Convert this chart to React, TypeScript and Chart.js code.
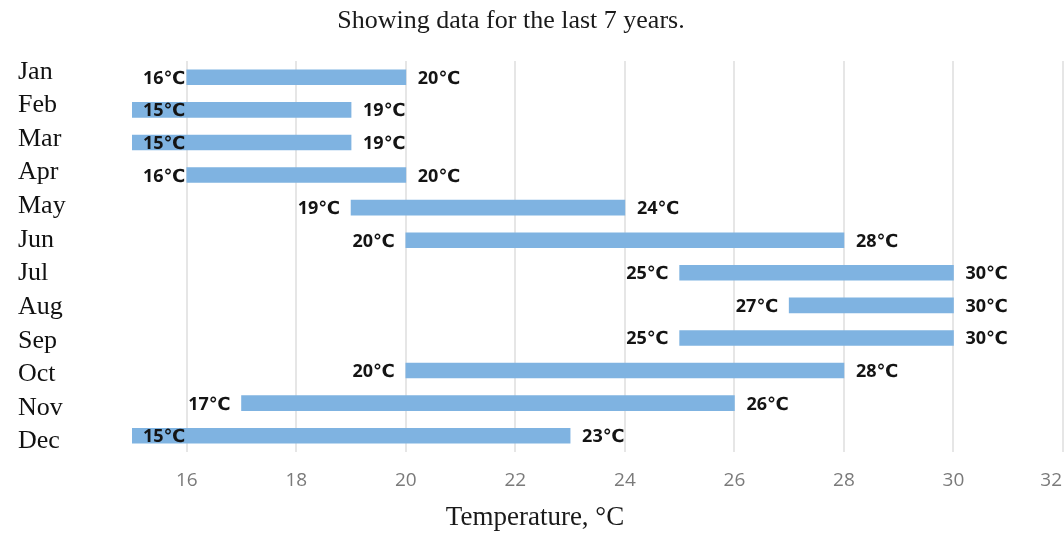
import React, { useEffect, useRef } from "react";
import { Chart, registerables } from "chart.js";

Chart.register(...registerables);

const months = ["Jan", "Feb", "Mar", "Apr", "May", "Jun", "Jul", "Aug", "Sep", "Oct", "Nov", "Dec"];
const lows = [16, 15, 15, 16, 19, 20, 25, 27, 25, 20, 17, 15];
const highs = [20, 19, 19, 20, 24, 28, 30, 30, 30, 28, 26, 23];
const xMin = 15;
const xMax = 32;
const xStep = 2;
const titleText = "Showing data for the last 7 years.";
const xTitleText = "Temperature, °C";
const unit = "℃";

const SERIF = "'Liberation Serif', 'Times New Roman', serif";
const SANS = "'Open Sans', 'DejaVu Sans', sans-serif";

const LABEL_MIN = -0.32;
const LABEL_MAX = 11.31;

const overlayPlugin = {
  id: "overlay",
  afterDatasetsDraw(chart: any) {
    const ctx = chart.ctx;
    const area = chart.chartArea;
    const meta = chart.getDatasetMeta(0);
    ctx.save();
    ctx.font = `bold 18px ${SANS}`;
    ctx.fillStyle = "#141414";
    ctx.textBaseline = "alphabetic";
    meta.data.forEach((bar: any, i: number) => {
      const p = bar.getProps(["x", "y", "base"], true);
      const left = Math.min(p.x, p.base);
      const right = Math.max(p.x, p.base);
      const y = p.y + 6.5;
      const lt = `${lows[i]}${unit}`;
      const ht = `${highs[i]}${unit}`;
      const lw = ctx.measureText(lt).width;
      let lx = left - 11 - lw;
      if (lx < area.left + 11) lx = area.left + 11;
      ctx.textAlign = "left";
      ctx.fillText(lt, lx, y);
      ctx.fillText(ht, right + 12, y);
    });
    ctx.restore();
  },
  afterDraw(chart: any) {
    const ctx = chart.ctx;
    const xs = chart.scales.x;
    const W = chart.width;
    ctx.save();
    ctx.font = `19px ${SANS}`;
    ctx.fillStyle = "#7a7a7a";
    ctx.textBaseline = "alphabetic";
    ctx.textAlign = "left";
    xs.ticks.forEach((t: any) => {
      const label = String(t.value);
      const w = ctx.measureText(label).width;
      let x = xs.getPixelForValue(t.value) - w / 2;
      if (x + w > W - 2) x = W - 2 - w;
      ctx.fillText(label, x, 486);
    });
    ctx.fillStyle = "#1a1a1a";
    ctx.textAlign = "center";
    ctx.font = `26px ${SERIF}`;
    ctx.fillText(titleText, 511, 28);
    ctx.font = `27px ${SERIF}`;
    ctx.fillText(xTitleText, 535, 525);
    ctx.restore();
  },
};

export default function App() {
  const ref = useRef<HTMLCanvasElement>(null);
  useEffect(() => {
    const chart = new Chart(ref.current as HTMLCanvasElement, {
      type: "bar",
      data: {
        labels: months,
        datasets: [
          {
            data: lows.map((l, i) => [l, highs[i]]) as any,
            backgroundColor: "#7fb3e1",
            borderWidth: 0,
            barThickness: 15,
            yAxisID: "y",
          },
        ],
      },
      options: {
        indexAxis: "y",
        animation: false,
        responsive: false,
        layout: { padding: { top: 61, left: 18, right: 1, bottom: 0 }, autoPadding: false },
        plugins: { legend: { display: false }, tooltip: { enabled: false }, title: { display: false } },
        scales: {
          x: {
            type: "linear",
            min: xMin,
            max: xMax,
            ticks: { stepSize: xStep, display: false },
            afterBuildTicks: (s: any) => {
              s.ticks = s.ticks.filter((t: any) => t.value % xStep === 0);
            },
            afterFit: (s: any) => {
              s.height = 81;
            },
            grid: { color: "#e6e6e6", lineWidth: 2, drawTicks: false },
            border: { display: false },
          },
          y: {
            type: "category",
            display: false,
          },
          yl: {
            type: "linear",
            position: "left",
            reverse: true,
            offset: false,
            bounds: "data",
            min: LABEL_MIN,
            max: LABEL_MAX,
            grid: { display: false, drawTicks: false, offset: false },
            border: { display: false },
            afterDataLimits: (s: any) => {
              s.min = LABEL_MIN;
              s.max = LABEL_MAX;
            },
            afterBuildTicks: (s: any) => {
              s.ticks = months.map((_, i) => ({ value: i }));
            },
            ticks: {
              autoSkip: false,
              crossAlign: "far",
              color: "#111",
              font: { family: SERIF, size: 26 },
              callback: (v: any) => months[Math.round(v)] ?? "",
            },
            afterFit: (s: any) => {
              s.width = 114;
            },
          },
        },
      },
      plugins: [overlayPlugin],
    });
    return () => chart.destroy();
  }, []);
  return (
    <div style={{ position: "absolute", left: 0, top: 0, width: 1064, height: 533, background: "#fff" }}>
      <canvas ref={ref} width={1064} height={533} style={{ display: "block", width: 1064, height: 533 }} />
    </div>
  );
}
